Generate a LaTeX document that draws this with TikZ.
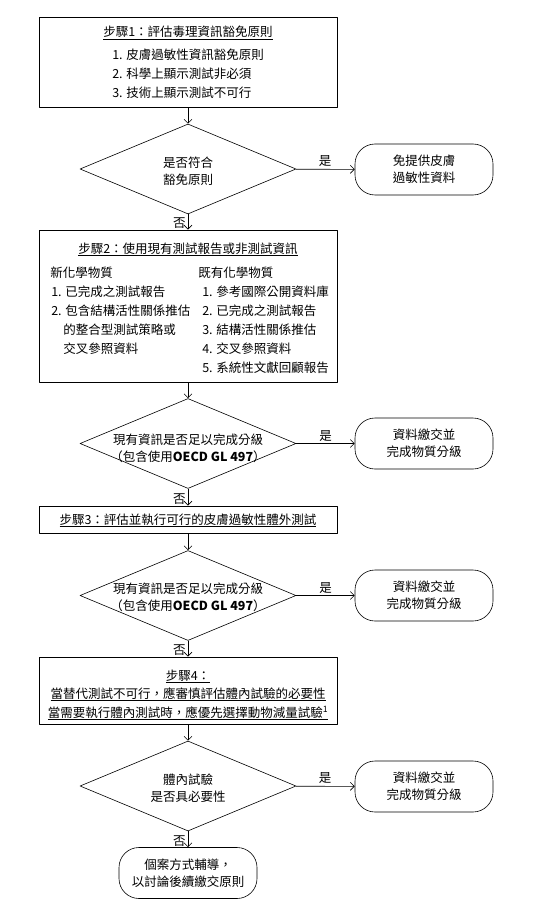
\documentclass[tikz,border=0pt]{standalone}
\usepackage{fontspec}
\setmainfont{Noto Sans CJK TC}
\usetikzlibrary{shapes.geometric,arrows.meta}
\tikzset{
  stepbox/.style={draw, line width=.9pt, minimum width=298pt, inner sep=0pt},
  decision/.style={draw, diamond, minimum width=216pt, minimum height=90pt, inner sep=0pt},
  dtext/.style={align=center, inner sep=0pt},
  terminal/.style={draw, rounded corners=20pt, minimum width=138pt, minimum height=51pt, align=center, inner sep=0pt},
  item/.style={anchor=base west, inner sep=0pt},
  steptitle/.style={anchor=base, inner sep=0pt},
  lbl/.style={inner sep=2pt}
}
\begin{document}
\begin{tikzpicture}[x=1pt, y=-1pt, font=\fontsize{12.5}{17}\selectfont, line join=round, line width=.6pt, >={Straight Barb[length=4pt,width=8pt]}]
	\useasboundingbox (0,0) rectangle (541,901);
	% step 1
	\node[stepbox, minimum height=90pt] (s1) at (188,62) {};
	\node[steptitle] (s1t) at (188,37) {\underline{步驟1：評估毒理資訊豁免原則}};
	\foreach \t [count=\i] in {皮膚過敏性資訊豁免原則, 科學上顯示測試非必須, 技術上顯示測試不可行}
		\node[item] (s1i\i) at (112,{60+19*(\i-1)}) {\i. \t};
	\node[decision] (d1) at (188,169) {};
	\node[dtext] (d1t) at (188,171) {是否符合\\豁免原則};
	\node[terminal] (t1) at (424,169.5) {免提供皮膚\\過敏性資料};
	% step 2
	\node[stepbox, minimum height=152pt] (s2) at (188,306) {};
	\node[steptitle] (s2t) at (188,253) {\underline{步驟2：使用現有測試報告或非測試資訊}};
	\node[item] (s2a) at (50,277) {新化學物質};
	\node[item] (s2a1) at (51,296) {1. 已完成之測試報告};
	\node[item] (s2a2) at (51,315) {2. 包含結構活性關係推估};
	\node[item] (s2a3) at (63,334) {的整合型測試策略或};
	\node[item] (s2a4) at (63,353) {交叉參照資料};
	\node[item] (s2b) at (198,277) {既有化學物質};
	\foreach \t [count=\i] in {參考國際公開資料庫, 已完成之測試報告, 結構活性關係推估, 交叉參照資料, 系統性文獻回顧報告}
		\node[item] (s2b\i) at (202,{296+19*(\i-1)}) {\i. \t};
	\node[decision] (d2) at (188,443.5) {};
	\node[dtext] (d2t) at (188,448) {現有資訊是否足以完成分級\\（包含使用\textbf{OECD GL 497}）};
	\node[terminal] (t2) at (424,443.5) {資料繳交並\\完成物質分級};
	% step 3
	\node[stepbox, minimum height=27pt] (s3) at (188,519.5) {};
	\node[steptitle] (s3t) at (188,524) {\underline{步驟3：評估並執行可行的皮膚過敏性體外測試}};
	\node[decision] (d3) at (188,595.5) {};
	\node[dtext] (d3t) at (188,597) {現有資訊是否足以完成分級\\（包含使用\textbf{OECD GL 497}）};
	\node[terminal] (t3) at (424,595.5) {資料繳交並\\完成物質分級};
	% step 4
	\node[stepbox, minimum height=67pt] (s4) at (188,690.5) {};
	\node[steptitle] (s4t) at (188,680) {\underline{步驟4：}};
	\node[steptitle] (s4a) at (188,698) {\underline{當替代測試不可行，應審慎評估體內試驗的必要性}};
	\node[steptitle] (s4b) at (188,717) {\underline{當需要執行體內測試時，應優先選擇動物減量試驗\textsuperscript{1}}};
	\node[decision] (d4) at (188,786) {};
	\node[dtext] (d4t) at (188,788) {體內試驗\\是否具必要性};
	\node[terminal] (t4) at (424,786.5) {資料繳交並\\完成物質分級};
	\node[terminal] (t5) at (188,873) {個案方式輔導，\\以討論後續繳交原則};
	% connectors
	\draw[->] (s1) -- (d1);
	\draw[->] (d1) -- node[lbl, above]{是} (t1);
	\draw[->] (d1) -- node[lbl, left, pos=.6]{否} (s2);
	\draw[->] (s2) -- (d2);
	\draw[->] (d2) -- node[lbl, above]{是} (t2);
	\draw[->] (d2) -- node[lbl, left, pos=.6]{否} (s3);
	\draw[->] (s3) -- (d3);
	\draw[->] (d3) -- node[lbl, above]{是} (t3);
	\draw[->] (d3) -- node[lbl, left, pos=.6]{否} (s4);
	\draw[->] (s4) -- (d4);
	\draw[->] (d4) -- node[lbl, above]{是} (t4);
	\draw[->] (d4) -- node[lbl, left, pos=.6]{否} (t5);
\end{tikzpicture}
\end{document}
